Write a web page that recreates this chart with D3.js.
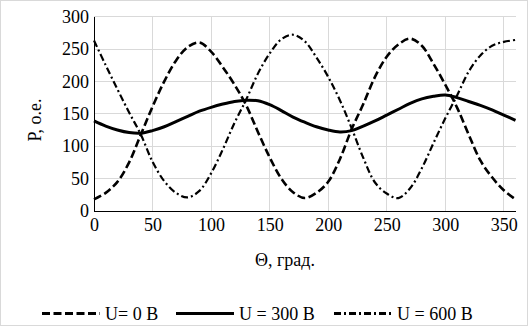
<!DOCTYPE html>
<html><head><meta charset="utf-8">
<script src="https://cdn.jsdelivr.net/npm/d3@7"></script>
<style>body{margin:0;background:#fff}svg{display:block}</style>
</head><body>
<svg id="c" width="528" height="326"></svg>
<script>
const theta = [0,10,20,30,40,50,60,70,80,90,100,110,120,130,140,150,160,170,180,190,200,210,220,230,240,250,260,270,280,290,300,310,320,330,340,350,360];
const u0   = [18,28,45,75,118,161,200,232,253,260,246,222,195,163,122,83,50,29,20,28,45,80,126,165,207,238,257,266,255,227,195,160,118,78,52,32,18];
const u300 = [139,131,125,121,120,124,130,138,146,154,160,165,169,171,170,164,155,145,137,130,125,122,124,131,139,148,157,166,173,177,179,175,169,163,156,148,140];
const u600 = [263,225,188,152,118,76,46,28,21,31,58,95,136,172,212,243,265,272,262,237,207,171,128,82,44,27,20,35,66,105,143,178,215,240,255,261,264];
const xTicks = [0,50,100,150,200,250,300,350];
const yTicks = [0,50,100,150,200,250,300];
const seriesNames = ["U= 0 В","U = 300 В","U = 600 В"];
const seriesDash = ["8,3.5", null, "7,3,2,3"];
const seriesWidth = [2.6, 3, 2.2];
const seriesData = [u0,u300,u600];
const FONT = '"Times New Roman"';

const svg = d3.select("#c");
svg.append("rect").attr("x",0.5).attr("y",0.5).attr("width",527).attr("height",325)
  .attr("fill","#fff").attr("stroke","#d9d9d9");

const x = d3.scaleLinear().domain([0,360]).range([94,515.5]);
const y = d3.scaleLinear().domain([0,300]).range([211,16.6]);

// grid
svg.append("g").selectAll("line").data(yTicks.slice(1)).join("line")
  .attr("x1",x(0)).attr("x2",x(360)).attr("y1",d=>y(d)).attr("y2",d=>y(d))
  .attr("stroke","#d9d9d9").attr("stroke-width",1).attr("shape-rendering","crispEdges");
svg.append("g").selectAll("line").data(xTicks.slice(1)).join("line")
  .attr("x1",d=>x(d)).attr("x2",d=>x(d)).attr("y1",y(0)).attr("y2",y(300))
  .attr("stroke","#d9d9d9").attr("stroke-width",1).attr("shape-rendering","crispEdges");

// axes
const gx = svg.append("g").attr("transform",`translate(0,${y(0)})`)
  .call(d3.axisBottom(x).tickValues(xTicks).tickSize(0).tickPadding(8).tickFormat(d3.format("d")));
gx.select(".domain").remove();
gx.attr("font-family",null).attr("font-size",null);
gx.selectAll("text").style("font-family",FONT).style("font-size","18px").attr("fill","#000").attr("dy","0.75em").attr("y",6);

const gy = svg.append("g").attr("transform",`translate(${x(0)},0)`)
  .call(d3.axisLeft(y).tickValues(yTicks).tickSize(0).tickPadding(5).tickFormat(d3.format("d")));
gy.select(".domain").remove();
gy.attr("font-family",null).attr("font-size",null);
gy.selectAll("text").style("font-family",FONT).style("font-size","18px").attr("fill","#000");

svg.append("line").attr("x1",x(0)).attr("x2",x(0)).attr("y1",y(300)).attr("y2",y(0))
  .attr("stroke","#000").attr("stroke-width",1).attr("shape-rendering","crispEdges");
svg.append("line").attr("x1",x(0)).attr("x2",x(360)).attr("y1",y(0)).attr("y2",y(0))
  .attr("stroke","#000").attr("stroke-width",1).attr("shape-rendering","crispEdges");

// series
const line = d3.line().x((d,i)=>x(theta[i])).y(d=>y(d)).curve(d3.curveCatmullRom.alpha(0.5));
seriesData.forEach((s,k)=>{
  svg.append("path").datum(s).attr("d",line).attr("fill","none").attr("stroke","#000")
    .attr("stroke-width",seriesWidth[k]).attr("stroke-dasharray",seriesDash[k]);
});

// titles
svg.append("text").attr("x",285).attr("y",266).attr("text-anchor","middle").style("font-size","18px").style("font-family",FONT).text("Θ, град.");
svg.append("text").attr("transform","translate(41,120) rotate(-90)").attr("text-anchor","middle").style("font-size","18px").style("font-family",FONT).text("P, o.e.");

// legend
const legX = [42,176,334];
const legG = svg.append("g");
seriesNames.forEach((n,k)=>{
  legG.append("line").attr("x1",legX[k]).attr("x2",legX[k]+58).attr("y1",313.5).attr("y2",313.5)
    .attr("stroke","#000").attr("stroke-width",3).attr("stroke-dasharray",seriesDash[k]);
  legG.append("text").attr("x",legX[k]+63).attr("y",319.5).style("font-size","18px").style("font-family",FONT).text(n);
});
</script>
</body></html>
